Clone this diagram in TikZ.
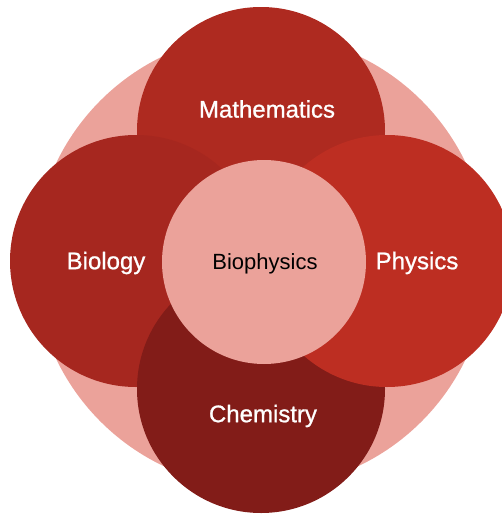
\documentclass[tikz,border=0pt]{standalone}
\usepackage{fontspec}
\setmainfont{Liberation Sans}
\newfontfamily\fieldfont{Liberation Sans}[FakeBold=0.9]
\usetikzlibrary{positioning}

\definecolor{rosebg}{HTML}{EBA29A}
\definecolor{mathred}{HTML}{AE2A20}
\definecolor{biored}{HTML}{A6271F}
\definecolor{physred}{HTML}{BD2E22}
\definecolor{chemred}{HTML}{821C18}

\tikzset{
  disc/.style={circle, inner sep=0pt, draw=none},
  field/.style={text=white, font=\fieldfont\fontsize{24}{28}\selectfont},
}

\begin{document}
\begin{tikzpicture}[x=1pt, y=-1pt]
        \useasboundingbox (0,0) rectangle (502,514);
        \clip (0,0) rectangle (502,514);

        \node[disc, fill=rosebg, minimum size=454pt] (bg) at (261,261) {};
        \node[disc, fill=mathred, minimum size=248pt] (math) at (261,131) {};
        \node[disc, fill=biored, minimum size=252pt] (bio) at (136,261) {};
        \node[disc, fill=chemred, minimum size=248pt] (chem) at (261,389) {};
        \node[disc, fill=physred, minimum size=252pt] (phys) at (387,261) {};
        \node[disc, fill=rosebg, minimum size=204pt] (core) at (264,262) {};

        \node[field] (mathlbl) at (267,109) {Mathematics};
        \node[field] (biolbl) at (106,263) {Biology};
        \node[field] (physlbl) at (417,263) {Physics};
        \node[field] (chemlbl) at (263,416) {Chemistry};
        \node[font=\fontsize{22}{26}\selectfont] (corelbl) at (265,264) {Biophysics};
    \end{tikzpicture}
\end{document}
